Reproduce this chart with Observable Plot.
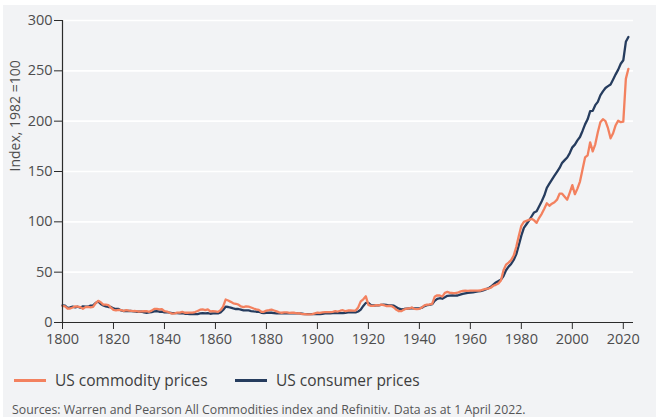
<!DOCTYPE html>
<html>
<head>
<meta charset="utf-8">
<script src="https://cdn.jsdelivr.net/npm/d3@7"></script>
<script src="https://cdn.jsdelivr.net/npm/@observablehq/plot@0.6"></script>
<style>
  html, body { margin: 0; padding: 0; background: #ffffff; }
  #wrap { position: absolute; left: 3px; top: 5px; width: 653px; height: 412px; background: #f2f3f5; overflow: hidden;
          font-family: "Open Sans", sans-serif; color: #4d4d4d; }
  #chart { position: absolute; left: 0; top: 0; }
  .leg { position: absolute; top: 364px; height: 22px; display: flex; align-items: center; font-size: 15.5px; color: #3d3d3d; white-space: nowrap; }
  .sw { display: inline-block; width: 32px; height: 3px; margin-right: 9px; }
  #caption { position: absolute; left: 9px; top: 396px; font-size: 12.3px; color: #555; white-space: nowrap; }
</style>
</head>
<body>
<div id="wrap">
  <div id="chart"></div>
  <div id="legend"></div>
  <div id="caption"></div>
</div>
<script>
const startYear = 1800;
const seriesNames = ["US commodity prices", "US consumer prices"];
const seriesColors = ["#f3815f", "#263c5e"];
const yAxisTitle = "Index, 1982 =100";
const captionText = "Sources: Warren and Pearson All Commodities index and Refinitiv. Data as at 1 April 2022.";
const xTicks = [1800, 1820, 1840, 1860, 1880, 1900, 1920, 1940, 1960, 1980, 2000, 2020];
const yTicks = [0, 50, 100, 150, 200, 250, 300];

// US commodity prices, 1800..2022 (annual)
const commodity = [
  16.5, 16.0, 13.8, 13.9, 14.9, 16.0, 15.8, 15.3, 13.6, 15.3,
  15.5, 15.0, 15.5, 19.1, 21.5, 20.1, 17.8, 17.8, 17.3, 14.8,
  12.5, 12.0, 12.5, 12.2, 11.6, 12.2, 11.7, 11.6, 11.4, 11.3,
  10.7, 11.1, 11.2, 11.2, 10.6, 11.8, 13.5, 13.6, 13.0, 13.2,
  11.2, 10.9, 9.7, 8.9, 9.1, 9.8, 9.8, 10.6, 9.7, 9.7,
  9.9, 9.8, 10.4, 11.4, 12.7, 13.0, 12.4, 13.1, 11.0, 11.2,
  11.0, 10.5, 12.3, 15.7, 22.8, 21.8, 20.5, 19.1, 18.6, 17.8,
  15.9, 15.3, 16.0, 15.7, 14.9, 13.9, 13.0, 12.5, 10.7, 10.6,
  11.8, 12.2, 12.7, 11.9, 11.0, 10.0, 9.7, 10.0, 10.1, 9.6,
  9.7, 9.7, 9.0, 9.2, 8.3, 8.4, 8.0, 8.0, 8.4, 9.1,
  9.7, 9.6, 10.1, 10.3, 10.3, 10.4, 10.6, 11.2, 10.9, 11.7,
  12.2, 11.2, 11.9, 12.0, 11.7, 11.9, 15.0, 21.0, 23.0, 26.0,
  17.5, 16.5, 16.6, 17.3, 16.9, 17.8, 17.2, 16.4, 16.6, 16.4,
  14.9, 12.6, 11.2, 11.3, 12.9, 13.8, 13.9, 14.9, 13.6, 13.3,
  13.6, 15.0, 17.0, 17.8, 17.9, 18.5, 25.5, 27.0, 26.8, 25.8,
  29.5, 30.4, 29.5, 29.3, 29.2, 29.6, 30.7, 31.3, 31.6, 31.5,
  31.6, 31.6, 31.6, 31.6, 31.8, 32.7, 33.4, 33.6, 34.5, 36.5,
  37.4, 38.7, 41.7, 52.0, 57.5, 59.5, 62.0, 66.5, 75.0, 86.0,
  96.0, 100.0, 101.0, 102.0, 103.0, 101.5, 99.0, 104.0, 108.0, 113.0,
  118.5, 116.0, 118.0, 119.5, 122.0, 128.0, 128.0, 125.0, 122.0, 129.0,
  136.5, 127.5, 133.0, 140.0, 152.0, 164.0, 166.0, 179.0, 170.0, 177.0,
  189.0, 199.0, 202.0, 200.0, 193.0, 183.0, 188.0, 196.0, 200.5, 199.0,
  199.5, 242.0, 252.0
];

// US consumer prices, 1800..2022 (annual)
const consumer = [
  17.0, 16.7, 14.4, 15.0, 15.7, 15.0, 15.7, 14.7, 16.0, 15.7,
  15.7, 16.7, 17.0, 19.4, 21.0, 18.4, 17.0, 16.0, 15.4, 15.4,
  14.0, 13.4, 13.4, 12.0, 11.4, 11.4, 11.4, 11.4, 11.0, 10.7,
  10.7, 10.7, 10.0, 9.7, 10.0, 10.4, 11.0, 11.4, 10.7, 10.7,
  10.0, 10.4, 9.7, 9.4, 9.4, 9.4, 9.0, 9.4, 8.7, 8.7,
  8.4, 8.4, 8.4, 8.4, 9.0, 9.4, 9.0, 9.4, 8.7, 9.0,
  9.0, 9.0, 10.0, 12.4, 15.7, 15.4, 14.7, 14.0, 13.4, 13.4,
  12.7, 12.0, 12.0, 12.0, 11.4, 11.0, 10.7, 10.7, 9.7, 9.4,
  9.7, 9.7, 9.7, 9.4, 9.0, 9.0, 9.0, 9.0, 9.0, 9.0,
  9.0, 9.0, 9.0, 9.0, 8.7, 8.4, 8.4, 8.4, 8.4, 8.4,
  8.4, 8.4, 8.7, 9.0, 9.0, 9.0, 9.4, 9.7, 9.4, 9.4,
  9.4, 9.7, 10.0, 10.0, 10.0, 10.1, 10.9, 12.8, 16.5, 19.5,
  19.4, 17.3, 16.9, 17.1, 17.1, 17.5, 17.7, 17.4, 17.1, 17.1,
  16.7, 15.2, 13.7, 13.0, 13.4, 13.7, 13.9, 14.4, 14.1, 13.9,
  14.0, 14.7, 16.3, 17.3, 17.6, 18.2, 21.5, 23.4, 24.1, 23.6,
  25.0, 26.5, 26.7, 26.9, 26.7, 26.8, 27.6, 28.4, 28.9, 29.4,
  29.8, 30.0, 30.4, 30.9, 31.2, 31.8, 32.9, 33.9, 35.5, 37.7,
  39.8, 41.1, 42.5, 46.2, 51.9, 55.5, 58.2, 62.1, 67.7, 76.7,
  86.3, 94.0, 97.6, 101.3, 105.3, 109.3, 110.5, 115.4, 120.5, 126.1,
  133.8, 137.9, 141.9, 145.8, 149.7, 153.5, 158.6, 161.3, 163.9, 168.3,
  174.0, 176.7, 180.9, 184.3, 190.3, 196.8, 201.8, 210.0, 210.2, 215.9,
  219.2, 225.7, 229.6, 233.0, 234.8, 236.5, 241.4, 246.5, 251.2, 257.0,
  260.5, 278.8, 283.7
];

const commodityRows = commodity.map((v, i) => ({year: startYear + i, value: v}));
const consumerRows = consumer.map((v, i) => ({year: startYear + i, value: v}));

const chart = Plot.plot({
  width: 653,
  height: 347,
  marginLeft: 59,
  marginRight: 23,
  marginTop: 15,
  marginBottom: 30,
  style: {background: "transparent", fontFamily: "Open Sans, sans-serif", fontSize: "14.5px", color: "#4d4d4d", overflow: "visible"},
  x: {domain: [1800, 2024]},
  y: {domain: [0, 300]},
  marks: [
    Plot.gridY(yTicks.filter(d => d > 0), {stroke: "#ffffff", strokeOpacity: 1, strokeWidth: 1.6}),
    Plot.line(consumerRows, {x: "year", y: "value", stroke: seriesColors[1], strokeWidth: 2.3, strokeLinejoin: "round"}),
    Plot.line(commodityRows, {x: "year", y: "value", stroke: seriesColors[0], strokeWidth: 2.3, strokeLinejoin: "round"}),
    Plot.ruleY([0], {stroke: "#2b2b2b", strokeWidth: 1.2}),
    Plot.ruleX([1800], {stroke: "#2b2b2b", strokeWidth: 1.2}),
    Plot.axisX({ticks: xTicks, tickFormat: "d", tickSize: 7, tickPadding: 4, stroke: "#2b2b2b", label: null}),
    Plot.axisY({ticks: yTicks, tickSize: 8, tickPadding: 2, stroke: "#2b2b2b", label: null}),
    Plot.text([yAxisTitle], {frameAnchor: "left", rotate: -90, dx: -47, fontSize: 14, fill: "#4d4d4d"})
  ]
});
document.getElementById("chart").appendChild(chart);

const legend = document.getElementById("legend");
const legendLeft = [11, 232];
seriesNames.forEach((name, i) => {
  const item = document.createElement("div");
  item.className = "leg";
  item.style.left = legendLeft[i] + "px";
  const sw = document.createElement("span");
  sw.className = "sw";
  sw.style.background = seriesColors[i];
  item.appendChild(sw);
  const t = document.createElement("span");
  t.textContent = name;
  item.appendChild(t);
  legend.appendChild(item);
});
document.getElementById("caption").textContent = captionText;
</script>
</body>
</html>
